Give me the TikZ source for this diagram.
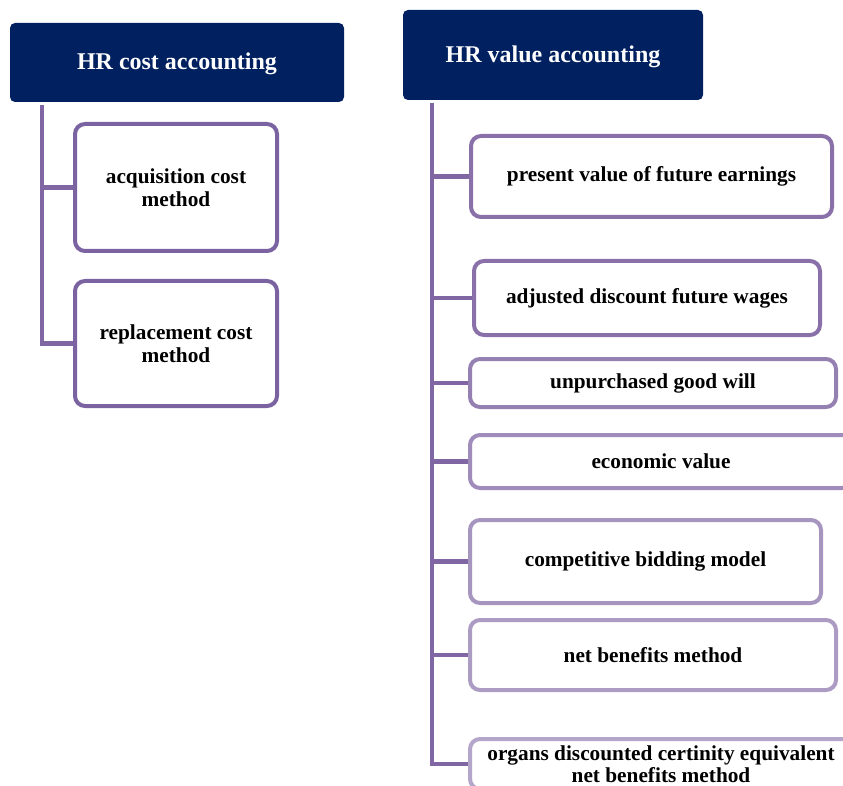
\documentclass[tikz,border=0pt]{standalone}
\usepackage{fontspec}
\setmainfont{Liberation Serif}

\definecolor{navyhead}{HTML}{002060}
\definecolor{trunkpurple}{HTML}{8066A2}
\definecolor{boxa}{HTML}{7B62A0}
\definecolor{boxb}{HTML}{8A70A8}
\definecolor{boxc}{HTML}{9580B2}
\definecolor{boxd}{HTML}{9F8CBA}
\definecolor{boxe}{HTML}{A695BF}
\definecolor{boxf}{HTML}{AC9CC4}
\definecolor{boxg}{HTML}{B4A6CB}

\tikzset{
  headbox/.style={fill=navyhead, rounded corners=5pt, text=white, align=center,
    text depth=2pt, font=\bfseries\fontsize{24}{26}\selectfont},
  methodbox/.style={draw, line width=4pt, fill=white, rounded corners=10pt,
    align=center, inner sep=0pt, font=\bfseries\fontsize{21.3}{22.5}\selectfont},
  branch/.style={draw=trunkpurple, line width=4.5pt},
}

\begin{document}
\begin{tikzpicture}[x=1pt,y=-1pt]
      \useasboundingbox (0,0) rectangle (843,786);
      \clip (0,0) rectangle (843,786);

      % HR cost accounting side.
      \node [headbox, minimum width=334, minimum height=79] (costhead) at (177,62.5) {HR cost accounting};
      \coordinate (costtop) at (42,105);
      \node [methodbox, draw=boxa, minimum width=202, minimum height=127] (acq) at (176,187.5) {acquisition cost\\method};
      \node [methodbox, draw=boxa, minimum width=202, minimum height=125] (repl) at (176,343.5) {replacement cost\\method};
      \draw [branch] (costtop) |- (acq.west);
      \draw [branch] (costtop) |- (repl.west);

      % HR value accounting side.
      \node [headbox, minimum width=300, minimum height=90] (valuehead) at (553,55) {HR value accounting};
      \coordinate (valuetop) at (432,103);
      \node [methodbox, draw=boxb, minimum width=361, minimum height=81] (pv) at (651.5,176.5) {present value of future earnings};
      \node [methodbox, draw=boxb, minimum width=346, minimum height=74] (adw) at (647,298) {adjusted discount future wages};
      \node [methodbox, draw=boxc, minimum width=366, minimum height=48] (ugw) at (653,383) {unpurchased good will};
      \node [methodbox, draw=boxd, minimum width=382, minimum height=53] (ev) at (661,461.5) {economic value};
      \node [methodbox, draw=boxe, minimum width=351, minimum height=83] (cbm) at (645.5,561.5) {competitive bidding model};
      \node [methodbox, draw=boxf, minimum width=366, minimum height=70] (nbm) at (653,655) {net benefits method};
      \node [methodbox, draw=boxg, minimum width=382, minimum height=50] (ocn) at (661,764) {organs discounted certinity equivalent\\net benefits method};
      \foreach \n in {pv,adw,ugw,ev,cbm,nbm,ocn}
        \draw [branch] (valuetop) |- (\n.west);
\end{tikzpicture}
\end{document}
